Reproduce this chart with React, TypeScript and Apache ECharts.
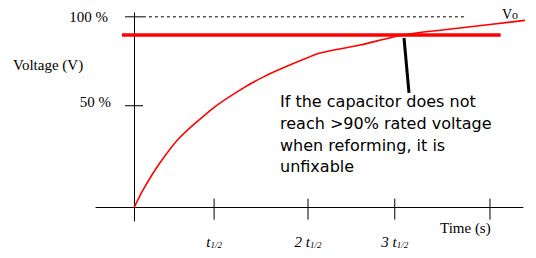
import React, { useEffect, useRef } from "react";
import * as echarts from "echarts";

// Charging curve (x in half-life units, y in % of Vo)
const curveX = [0, 0.1, 0.29, 0.52, 0.89, 1.19, 1.45, 1.75, 2.09, 2.54, 3.02, 3.66, 4.42];
const curveY = [0, 9.2, 23.4, 37.0, 52.2, 61.6, 68.4, 74.7, 81.0, 85.2, 90.5, 94.1, 98.3];

// Axis tick positions
const xTickValues = [0.9, 1.955, 2.93, 4.0];
const xTickLabels = ["t", "2 t", "3 t", ""];
const yTickValues = [53.4, 100];
const yTickLabels = ["50 %", "100 %"];

// Reference lines
const fullLineX = [0.1, 3.71];
const fullLineY = 100;
const thresholdX = [-0.135, 4.12];
const thresholdY = 90.5;
const pointerX = [3.034, 3.09];
const pointerY = [88.9, 60.1];

const annotation = [
  "If the capacitor does not",
  "reach >90% rated voltage",
  "when reforming, it is",
  "unfixable",
];

const serif = "'Liberation Serif', 'Times New Roman', serif";

export default function App() {
  const ref = useRef<HTMLDivElement>(null);
  useEffect(() => {
    if (!ref.current) return;
    document.body.style.margin = "0";
    const chart = echarts.init(ref.current, null, { renderer: "svg" });
    const tickData = [
      ...xTickValues.map((v) => [0, v, -1]),
      ...yTickValues.map((v, i) => [1, v, i]),
    ];
    chart.setOption({
      animation: false,
      grid: { left: 96, right: 13, top: 13, bottom: 37, outerBoundsMode: "none", containLabel: false },
      xAxis: {
        type: "value",
        min: -0.427,
        max: 4.371,
        splitLine: { show: false },
        axisTick: { show: false },
        axisLine: { show: true, onZero: true, lineStyle: { color: "#000", width: 1 } },
        axisLabel: {
          customValues: xTickValues.slice(0, 3),
          margin: 13,
          formatter: (v: number) => {
            const i = xTickValues.indexOf(v);
            return "{m|" + xTickLabels[i] + "}{s|1/2}";
          },
          rich: {
            m: { fontFamily: serif, fontStyle: "italic", fontSize: 15, color: "#000" },
            s: { fontFamily: serif, fontStyle: "italic", fontSize: 9, color: "#000", verticalAlign: "bottom" },
          },
        },
      },
      yAxis: {
        type: "value",
        min: -7,
        max: 102,
        splitLine: { show: false },
        axisTick: { show: false },
        axisLabel: { show: false },
        axisLine: { show: true, onZero: true, lineStyle: { color: "#000", width: 1 } },
      },
      graphic: [
        {
          type: "text",
          left: 13,
          top: 57,
          style: { text: "Voltage (V)", font: "15px " + serif, fill: "#000" },
        },
        {
          type: "text",
          left: 440,
          top: 220,
          style: { text: "Time (s)", font: "15px " + serif, fill: "#000" },
        },
        {
          type: "text",
          left: 502,
          top: 7,
          style: {
            text: "{v|V}{o|o}",
            rich: {
              v: { fontFamily: serif, fontSize: 14, fill: "#000" },
              o: { fontFamily: serif, fontSize: 12, fill: "#000", verticalAlign: "bottom" },
            },
          },
        },
        {
          type: "text",
          left: 280,
          top: 91,
          style: {
            text: annotation.join("\n"),
            font: "16px 'DejaVu Sans', sans-serif",
            lineHeight: 21.6,
            fill: "#000",
          },
        },
      ],
      series: [
        {
          type: "line",
          data: fullLineX.map((x) => [x, fullLineY]),
          symbol: "none",
          lineStyle: { color: "#000", width: 1, type: [3, 3] },
          z: 2,
        },
        {
          type: "line",
          data: curveX.map((x, i) => [x, curveY[i]]),
          symbol: "none",
          smooth: 0.2,
          clip: false,
          lineStyle: { color: "#ff0000", width: 1.6 },
          z: 3,
        },
        {
          type: "line",
          data: thresholdX.map((x) => [x, thresholdY]),
          symbol: "none",
          clip: false,
          lineStyle: { color: "#ff0000", width: 3.5 },
          z: 4,
        },
        {
          type: "line",
          data: pointerX.map((x, i) => [x, pointerY[i]]),
          symbol: "none",
          lineStyle: { color: "#000", width: 3 },
          z: 5,
        },
        {
          type: "custom",
          data: tickData,
          clip: false,
          z: 6,
          renderItem: (_p: any, api: any) => {
            const kind = api.value(0);
            const v = api.value(1);
            const idx = api.value(2);
            if (kind === 0) {
              const p = api.coord([v, 0]);
              return {
                type: "line",
                shape: { x1: p[0], y1: p[1] - 9, x2: p[0], y2: p[1] + 12 },
                style: { stroke: "#000", lineWidth: 1 },
              };
            }
            const p = api.coord([0, v]);
            const isTop = idx === 1;
            return {
              type: "group",
              children: [
                {
                  type: "line",
                  shape: { x1: p[0] - 9, y1: p[1], x2: p[0] + 9, y2: p[1] },
                  style: { stroke: "#000", lineWidth: 1 },
                },
                {
                  type: "text",
                  x: p[0] - (isTop ? 26 : 23),
                  y: p[1] - (isTop ? 0 : 4),
                  style: {
                    text: yTickLabels[idx],
                    font: "15px " + serif,
                    fill: "#000",
                    align: "right",
                    verticalAlign: "middle",
                  },
                },
              ],
            };
          },
        },
      ],
    });
    return () => chart.dispose();
  }, []);
  return <div ref={ref} style={{ width: 536, height: 258 }} />;
}
